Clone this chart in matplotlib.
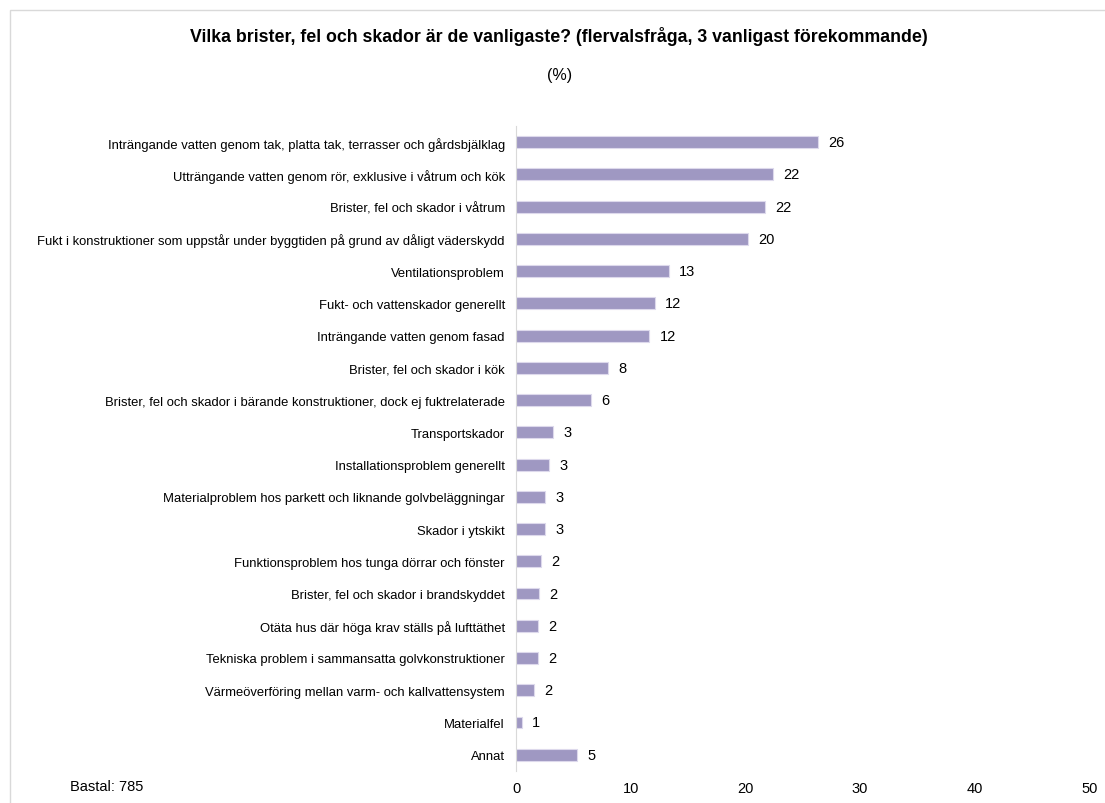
import matplotlib.pyplot as plt
from matplotlib.patches import Rectangle

plt.rcParams['font.family'] = ['Liberation Sans', 'DejaVu Sans']

categories = [
    "Inträngande vatten genom tak, platta tak, terrasser och gårdsbjälklag",
    "Utträngande vatten genom rör, exklusive i våtrum och kök",
    "Brister, fel och skador i våtrum",
    "Fukt i konstruktioner som uppstår under byggtiden på grund av dåligt väderskydd",
    "Ventilationsproblem",
    "Fukt- och vattenskador generellt",
    "Inträngande vatten genom fasad",
    "Brister, fel och skador i kök",
    "Brister, fel och skador i bärande konstruktioner, dock ej fuktrelaterade",
    "Transportskador",
    "Installationsproblem generellt",
    "Materialproblem hos parkett och liknande golvbeläggningar",
    "Skador i ytskikt",
    "Funktionsproblem hos tunga dörrar och fönster",
    "Brister, fel och skador i brandskyddet",
    "Otäta hus där höga krav ställs på lufttäthet",
    "Tekniska problem i sammansatta golvkonstruktioner",
    "Värmeöverföring mellan varm- och kallvattensystem",
    "Materialfel",
    "Annat",
]
values = [26.3, 22.4, 21.7, 20.2, 13.3, 12.1, 11.6, 8.0, 6.5, 3.2,
          2.9, 2.5, 2.5, 2.2, 2.0, 1.9, 1.9, 1.6, 0.5, 5.3]
value_labels = ["26", "22", "22", "20", "13", "12", "12", "8", "6", "3",
                "3", "3", "3", "2", "2", "2", "2", "2", "1", "5"]
xticks = [0, 10, 20, 30, 40, 50]

bar_color = "#9f98c2"

fig = plt.figure(figsize=(11.05, 8.04), dpi=100)
# light chart border
fig.patches.append(Rectangle((0.009, -0.01), 1.0, 0.996, transform=fig.transFigure,
                             fill=False, edgecolor="#d9d9d9", linewidth=1))

ax = fig.add_axes([0.467, 0.040, 0.519, 0.802])
y = list(range(len(categories)))
ax.barh(y, values, height=0.37, color=bar_color, edgecolor="#ddd9ec", linewidth=0.8)
for yi, v, lab in zip(y, values, value_labels):
    ax.text(v + 0.9, yi, lab, va="center", ha="left", fontsize=10.5, color="#000000")

ax.set_ylim(len(categories) - 0.5, -0.5)
ax.set_xlim(0, 50)
ax.set_yticks(y)
ax.set_yticklabels(categories, fontsize=9.4)
ax.set_xticks(xticks)
ax.set_xticklabels([str(t) for t in xticks], fontsize=10.5)
ax.tick_params(axis="both", length=0)
ax.tick_params(axis="y", pad=8)
ax.tick_params(axis="x", pad=7)
for s in ["top", "right", "bottom"]:
    ax.spines[s].set_visible(False)
ax.spines["left"].set_color("#d9d9d9")

fig.text(0.506, 0.954, "Vilka brister, fel och skador är de vanligaste? (flervalsfråga, 3 vanligast förekommande)",
         ha="center", va="center", fontsize=12.8, fontweight="bold")
fig.text(0.506, 0.906, "(%)", ha="center", va="center", fontsize=11.5)
fig.text(0.063, 0.021, "Bastal: 785", ha="left", va="center", fontsize=10.5)

fig.savefig("out.png", dpi=100)
